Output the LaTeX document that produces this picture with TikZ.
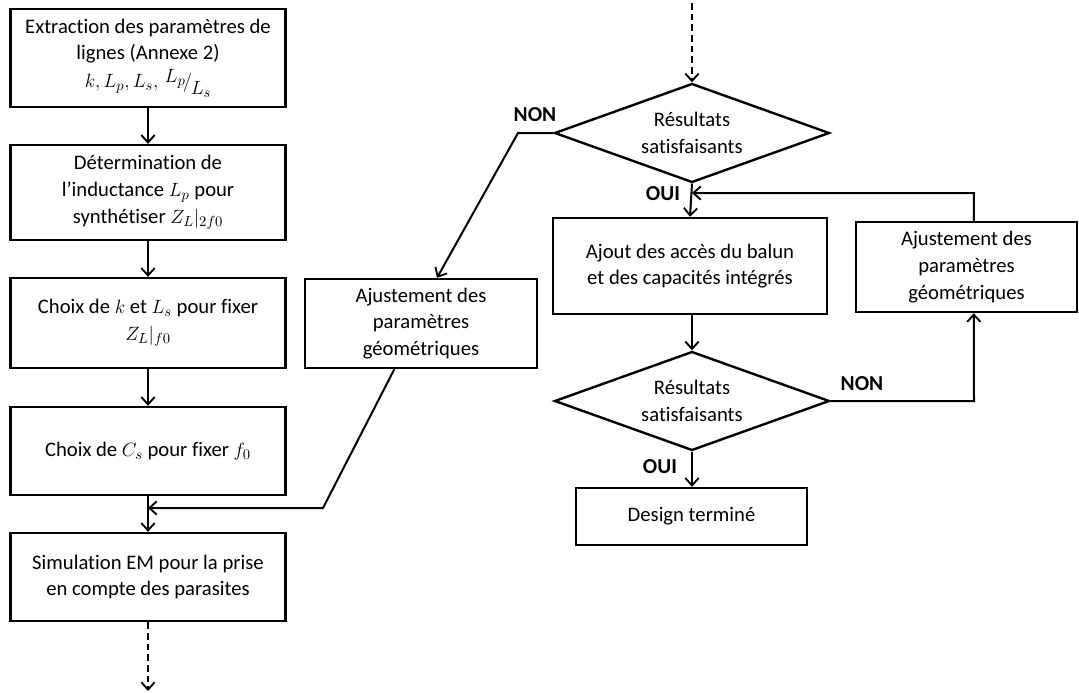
\documentclass[tikz,border=0pt]{standalone}
\usepackage{fontspec}
\setmainfont{Carlito}[Ligatures={NoCommon}]
\usetikzlibrary{arrows.meta,shapes.geometric}
\tikzset{
  box/.style={draw, line width=1.8pt, rectangle, align=center, inner sep=2pt,
    font=\fontsize{15.5}{20}\selectfont},
  dec/.style={draw, line width=1.8pt, diamond, aspect=2.78, align=center, inner sep=0pt,
    minimum width=275*0.75pt, minimum height=99*0.75pt, font=\fontsize{15.5}{20}\selectfont},
  arr/.style={line width=1.5pt, -{Straight Barb[length=5.5pt,width=10pt,line width=1.4pt]}},
  dsh/.style={dash pattern=on 5pt off 3pt},
  lbl/.style={font=\fontsize{16}{18}\selectfont\bfseries, inner sep=0pt}
}
\begin{document}
\begin{tikzpicture}[x=0.75pt,y=-0.75pt]
\useasboundingbox (0,0) rectangle (1079,693);
% left column
\node[box, minimum width=275*0.75pt, minimum height=98*0.75pt] (b1) at (148,58)
  {Extraction des paramètres de\\lignes (Annexe 2)\\[1pt]$k, L_p, L_s,\,\raisebox{4pt}{$L_p$}\kern-2pt\Big/\kern-1pt\raisebox{-5pt}{$L_s$}$};
\node[box, minimum width=275*0.75pt, minimum height=95*0.75pt] (b2) at (148,192.5)
  {Détermination de\\l’inductance $L_p$ pour\\synthétiser $Z_L|_{2f0}$};
\node[box, minimum width=275*0.75pt, minimum height=90*0.75pt] (b3) at (148,323)
  {Choix de $k$ et $L_s$ pour fixer\\$Z_L|_{f0}$};
\node[box, minimum width=275*0.75pt, minimum height=88*0.75pt] (b4) at (148,451)
  {Choix de $C_s$ pour fixer $f_0$};
\node[box, minimum width=275*0.75pt, minimum height=88*0.75pt] (b5) at (148,577)
  {Simulation EM pour la prise\\en compte des parasites};
% middle adjust box
\node[box, minimum width=232*0.75pt, minimum height=89*0.75pt] (aj1) at (421,323.5)
  {Ajustement des\\paramètres\\géométriques};
% right column
\node[dec] (d1) at (692,133) {Résultats\\satisfaisants};
\node[box, minimum width=274*0.75pt, minimum height=96*0.75pt] (ajout) at (690,266)
  {Ajout des accès du balun\\et des capacités intégrés};
\node[box, minimum width=221*0.75pt, minimum height=90*0.75pt] (aj2) at (966.5,267)
  {Ajustement des\\paramètres\\géométriques};
\node[dec] (d2) at (692,401) {Résultats\\satisfaisants};
\node[box, minimum width=231*0.75pt, minimum height=57*0.75pt] (design) at (691.5,516.5)
  {Design terminé};
% labels
\node[lbl] (non1) at (535,115) {NON};
\node[lbl] (oui1) at (663,194) {OUI};
\node[lbl] (non2) at (862,384) {NON};
\node[lbl] (oui2) at (660,467) {OUI};
% coordinates
\coordinate (topin) at (692,3);
\coordinate (n1) at (518,133);
\coordinate (m1) at (323,508);
\coordinate (fb) at (974,193);
\coordinate (fbend) at (692,193);
\coordinate (n2) at (974,401);
\coordinate (botout) at (148,691);
% connectors left
\draw[arr] (b1) -- (b2);
\draw[arr] (b2) -- (b3);
\draw[arr] (b3) -- (b4);
\draw[arr] (b4) -- (b5);
\draw[arr, dsh] (b5) -- (botout);
% NON loop 1
\draw[arr] (d1.west) -- (n1) -- ([xshift=12pt]aj1.north);
\draw[arr] ([xshift=-20pt]aj1.south) -- (m1) -- (b4.south |- m1);
% right column
\draw[arr, dsh] (topin) -- (d1.north);
\draw[arr] (d1.south) -- (ajout.north);
\draw[arr] ([xshift=5.5pt]aj2.north) -- (fb) -- (fbend);
\draw[arr] (ajout.south -| d2.north) -- (d2.north);
\draw[arr] (d2.east) -- (n2) -- ([xshift=5.5pt]aj2.south);
\draw[arr] (d2.south) -- (design.north -| d2.south);
\end{tikzpicture}
\end{document}
